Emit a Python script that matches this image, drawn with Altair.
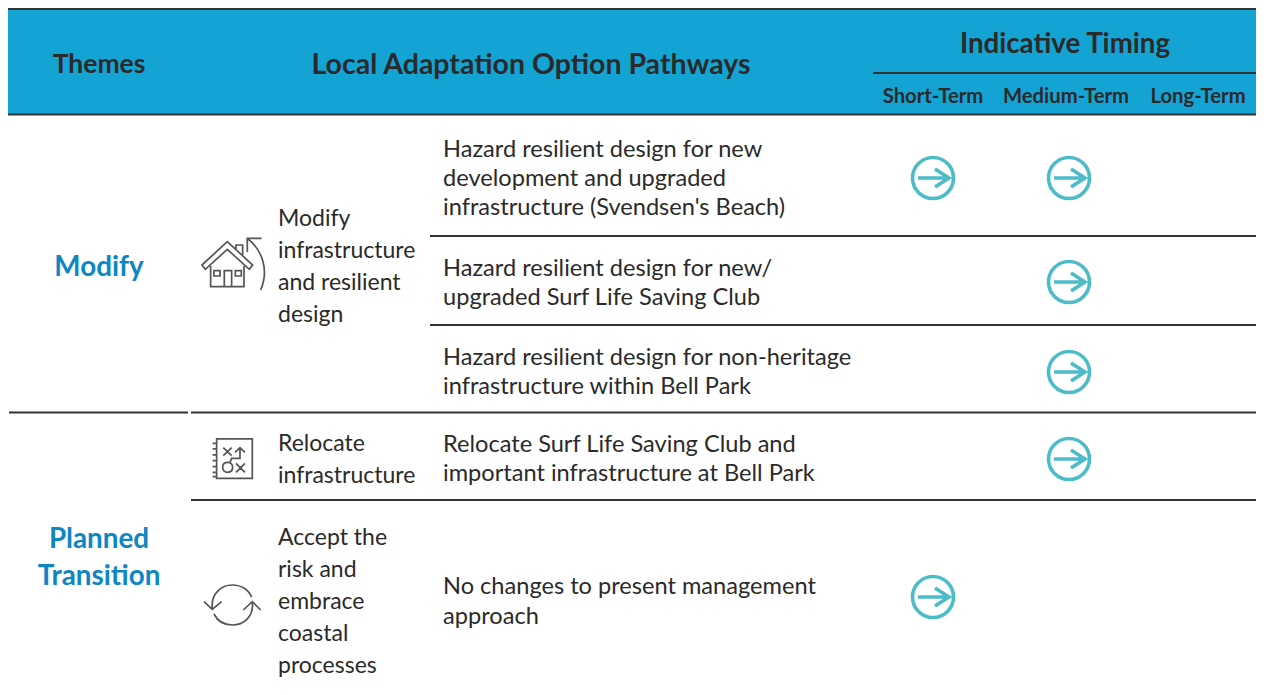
import re
import altair as alt
import pandas as pd

FONT = "Lato"
INK = "#2b2a2b"
BLUE = "#0e86c2"
TEAL = "#4dbcc9"

# ---------- table content ----------
header_theme = ["Themes"]
header_theme_x = [99]
header_theme_y = [64.5]
header_main = ["Local Adaptation Option Pathways"]
header_main_x = [531]
header_main_y = [64.5]
header_timing = ["Indicative Timing"]
header_timing_x = [1065]
header_timing_y = [44.5]
terms = ["Short-Term", "Medium-Term", "Long-Term"]
terms_x = [933, 1066, 1198]
terms_y = [97, 97, 97]

themes = ["Modify", "Planned", "Transition"]
themes_x = [99, 99, 99]
themes_y = [268, 540, 577]

options = ["Modify", "infrastructure", "and resilient", "design",
           "Relocate", "infrastructure",
           "Accept the", "risk and", "embrace", "coastal", "processes"]
options_y = [219, 251, 283, 315, 444, 476, 538, 570, 602, 634, 666]
options_x = [278] * len(options)

pathways = ["Hazard resilient design for new", "development and upgraded",
            "infrastructure (Svendsen's Beach)",
            "Hazard resilient design for new/", "upgraded Surf Life Saving Club",
            "Hazard resilient design for non-heritage", "infrastructure within Bell Park",
            "Relocate Surf Life Saving Club and", "important infrastructure at Bell Park",
            "No changes to present management", "approach"]
pathways_y = [150, 179, 208, 269, 298, 358, 387, 445, 474, 587, 617]
pathways_x = [443] * len(pathways)

arrow_x = [933, 1069, 1069, 1069, 1069, 933]
arrow_y = [178, 178, 282, 372, 459, 597]

rule_x1 = [8, 873, 430, 430, 9, 191, 191, 8]
rule_x2 = [1258, 1258, 1258, 1258, 188, 1258, 1258, 1258]
rule_y = [9, 73, 236, 325, 412.5, 412.5, 500, 114.5]

header_box = pd.DataFrame({"x": [8], "x2": [1258], "y": [9], "y2": [114.5]})


def norm(path, cx, cy, half):
    """Turn a path drawn around (cx, cy) into Vega's -1..1 symbol space."""
    out, is_x = [], True
    for tok in re.findall(r"[A-Za-z]|-?\d+\.?\d*", path):
        if tok.isalpha():
            out.append(tok)
            is_x = True
        else:
            v = float(tok)
            out.append(f"{(v - (cx if is_x else cy)) / half:.4f}")
            is_x = not is_x
    return " ".join(out)


ARROW = norm(
    "M-20.5,0 C-20.5,-11.3 -11.3,-20.5 0,-20.5 C11.3,-20.5 20.5,-11.3 20.5,0 "
    "C20.5,11.3 11.3,20.5 0,20.5 C-11.3,20.5 -20.5,11.3 -20.5,0 Z "
    "M-15,0 L15.5,0 M2,-9 L16,0 L2,9", 0, 0, 22)

HOUSE = norm(
    "M36,105 L112,35 L188,105 L178,118 L112,58 L46,118 Z "
    "M138,60 L138,45 L158,45 L158,78 "
    "M62,108 L62,170 L162,170 L162,108 "
    "M103,170 L103,122 L125,122 L125,170 "
    "M72,122 L90,122 L90,138 L72,138 Z "
    "M136,122 L154,122 L154,138 L136,138 Z "
    "M215,25 L172,25 L172,66 "
    "M172,25 C212,55 240,115 212,180", 130, 105, 90)

PLANNER = norm(
    "M80,42 L187,42 L187,160 L80,160 Z "
    "M68,55 L80,55 M68,72 L80,72 M68,90 L80,90 M68,107 L80,107 "
    "M68,125 L80,125 M68,142 L80,142 M68,155 L80,155 "
    "M100,68 L125,92 M125,68 L100,92 "
    "M138,115 L165,142 M165,115 L138,142 "
    "M128,127 C128,118 122,112 113,112 C104,112 98,118 98,127 "
    "C98,136 104,142 113,142 C122,142 128,136 128,127 Z "
    "M120,112 L125,100 L150,100 L150,70 M135,82 L150,68 L165,82", 127, 100, 90)

CYCLE = norm(
    "M67,115 C62,70 95,45 127,45 C155,45 178,60 185,82 "
    "M187,97 C192,140 160,165 127,165 C100,165 82,152 72,132 "
    "M42,95 L67,118 L95,95 M160,120 L187,95 L212,120", 127, 105, 90)

icon_shapes = [HOUSE, PLANNER, CYCLE]
icon_x = [233.3, 232.3, 232.3]
icon_y = [265, 458.3, 605]

# ---------- scales: the table grid in page pixels ----------
W, H = 1248, 675
xs = alt.Scale(domain=[8, 8 + W], range=[0, W], nice=False, zero=False)
ys = alt.Scale(domain=[8, 8 + H], range=[0, H], nice=False, zero=False)
X = lambda f="x": alt.X(f"{f}:Q", scale=xs, axis=None)
Y = lambda f="y": alt.Y(f"{f}:Q", scale=ys, axis=None)


def text_layer(labels, xv, yv, size, weight, color, align):
    df = pd.DataFrame({"x": xv, "y": yv, "t": labels})
    return alt.Chart(df).mark_text(
        font=FONT, fontSize=size, fontWeight=weight, color=color,
        align=align, baseline="middle",
    ).encode(x=X(), y=Y(), text="t:N")


box = alt.Chart(header_box).mark_rect(color="#13a4d3").encode(
    x=X(), x2="x2:Q", y=Y(), y2="y2:Q")

rules = alt.Chart(pd.DataFrame({"x": rule_x1, "x2": rule_x2, "y": rule_y})).mark_rule(
    color="#333333", strokeWidth=2.2).encode(x=X(), x2="x2:Q", y=Y())

arrows = alt.Chart(pd.DataFrame({"x": arrow_x, "y": arrow_y})).mark_point(
    shape=ARROW, size=1936, color=TEAL, filled=False, strokeWidth=3.6, opacity=1,
).encode(x=X(), y=Y())

icons = [
    alt.Chart(pd.DataFrame({"x": [x], "y": [y]})).mark_point(
        shape=s, size=3600, color="#555555", filled=False, strokeWidth=1.7, opacity=1,
    ).encode(x=X(), y=Y())
    for s, x, y in zip(icon_shapes, icon_x, icon_y)
]

chart = alt.layer(
    box,
    rules,
    text_layer(header_theme, header_theme_x, header_theme_y, 26.5, 700, INK, "center"),
    text_layer(header_main, header_main_x, header_main_y, 28.5, 700, INK, "center"),
    text_layer(header_timing, header_timing_x, header_timing_y, 27.7, 700, INK, "center"),
    text_layer(terms, terms_x, terms_y, 20.3, 700, INK, "center"),
    text_layer(themes, themes_x, themes_y, 27.8, 700, BLUE, "center"),
    text_layer(options, options_x, options_y, 23, 400, INK, "left"),
    text_layer(pathways, pathways_x, pathways_y, 23.6, 400, INK, "left"),
    arrows,
    *icons,
).properties(
    width=W, height=H, padding=0,
    autosize=alt.AutoSizeParams(type="none"),
).configure_view(stroke=None)

chart.save("out.html", embed_options={"renderer": "svg", "actions": False})
